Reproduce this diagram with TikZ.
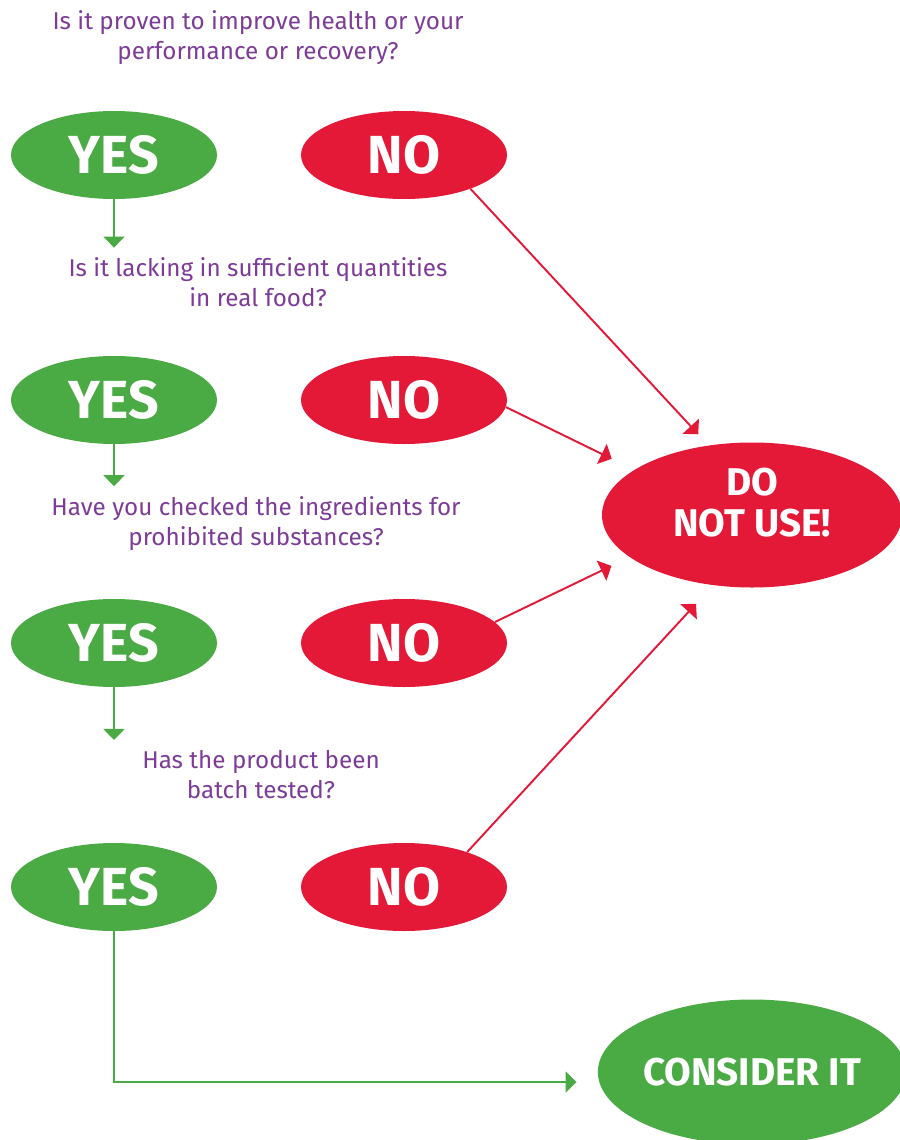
\documentclass[tikz,border=0pt]{standalone}
\usepackage{fontspec}
\setmainfont{Fira Sans}
\usepackage{tikz}
\usetikzlibrary{shapes.geometric,arrows.meta}
\definecolor{okgreen}{HTML}{4AAA43}
\definecolor{stopred}{HTML}{E31937}
\definecolor{askpurple}{HTML}{7D3C98}
\tikzset{
    yes-oval/.style = {ellipse, fill=okgreen, text=white, inner sep=0pt, minimum width=4.12cm, minimum height=1.76cm, font=\fontsize{30.5}{33}\selectfont\bfseries},
    no-oval/.style = {yes-oval, fill=stopred},
    end-oval/.style = {ellipse, text=white, inner sep=0pt, minimum width=6cm, minimum height=2.9cm, align=center, font=\fontsize{22}{23}\selectfont\bfseries},
    end-label/.style = {text=white, inner sep=0pt, align=center, font=\fontsize{22}{23}\selectfont\bfseries},
    question-text/.style = {text=askpurple, align=center, inner sep=0pt, font=\fontsize{13.8}{17}\selectfont},
    go-arrow/.style = {draw=okgreen, line width=1.1pt, -{Triangle[length=0.22cm, width=0.42cm]}},
    stop-arrow/.style = {draw=stopred, line width=1.1pt, -{Triangle[length=0.22cm, width=0.44cm]}},
}

\begin{document}
\begin{tikzpicture}
\useasboundingbox (0,0) rectangle (17.98,-22.8);

\node[question-text] (q1) at (5.16,-0.76) {Is it proven to improve health or your\\performance or recovery?};
\node[yes-oval] (yes1) at (2.28,-3.10) {YES};
\node[no-oval] (no1) at (8.08,-3.10) {NO};

\node[question-text] (q2) at (5.16,-5.65) {Is it lacking in sufficient quantities\\in real food?};
\node[yes-oval] (yes2) at (2.28,-8.00) {YES};
\node[no-oval] (no2) at (8.08,-8.00) {NO};

\node[question-text] (q3) at (5.12,-10.47) {Have you checked the ingredients for\\prohibited substances?};
\node[yes-oval] (yes3) at (2.28,-12.86) {YES};
\node[no-oval] (no3) at (8.08,-12.86) {NO};

\node[question-text] (q4) at (5.22,-15.49) {Has the product been\\batch tested?};
\node[yes-oval] (yes4) at (2.28,-17.74) {YES};
\node[no-oval] (no4) at (8.08,-17.74) {NO};

\node[end-oval, fill=stopred, label={[end-label, yshift=0.25cm]center:{DO\\NOT USE!}}] (dnu) at (15.04,-10.30) {};
\node[end-oval, fill=okgreen] (consider) at (15.04,-21.44) {CONSIDER IT};

% yes -> next question
\draw[go-arrow, shorten >=0.2cm] (yes1) -- (yes1 |- q2.north);
\draw[go-arrow, shorten >=0.2cm] (yes2) -- (yes2 |- q3.north);
\draw[go-arrow, shorten >=0.2cm] (yes3) -- (yes3 |- q4.north);
\draw[go-arrow, shorten >=0.42cm] (yes4.south) |- ([yshift=-0.2cm]consider.west);

% no -> do not use
\draw[stop-arrow, shorten >=0.3cm] (no1.-27) -- (dnu.122);
\draw[stop-arrow, shorten >=0.5cm] (no2.-4) -- (dnu.159);
\draw[stop-arrow, shorten >=0.4cm] (no3.13) -- (dnu.199);
\draw[stop-arrow, shorten >=0.5cm] (no4.29) -- (dnu.241);
\end{tikzpicture}
\end{document}
